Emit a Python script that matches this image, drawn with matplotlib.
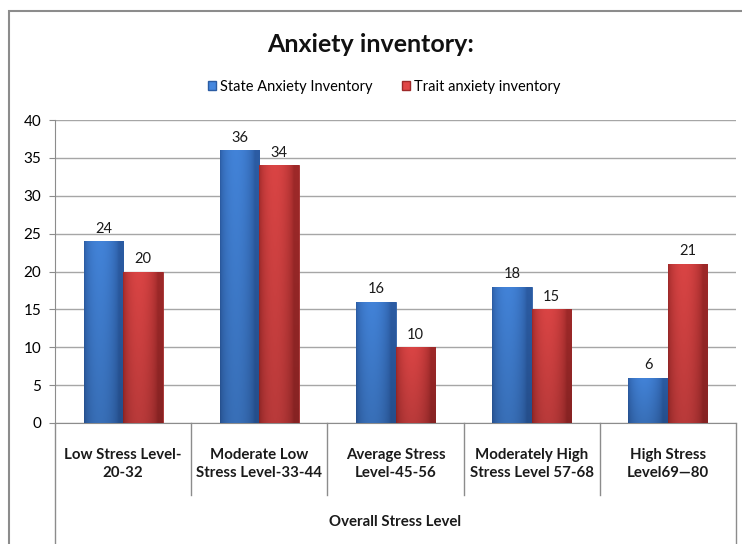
import numpy as np
import matplotlib
matplotlib.use('Agg')
import matplotlib.pyplot as plt
from matplotlib.patches import Rectangle, Patch
from matplotlib.transforms import blended_transform_factory

categories = ['Low Stress Level-\n20-32', 'Moderate Low\nStress Level-33-44',
              'Average Stress\nLevel-45-56', 'Moderately High\nStress Level 57-68',
              'High Stress\nLevel69\u201480']
state = [24, 36, 16, 18, 6]
trait = [20, 34, 10, 15, 21]
series_names = ['State Anxiety Inventory', 'Trait anxiety inventory']

plt.rcParams['font.family'] = ['Lato', 'DejaVu Sans']

W, H = 742, 544
fig = plt.figure(figsize=(W / 100, H / 100), dpi=100)

# plot area in pixel coords
px_left, px_right, px_top, px_bottom = 55, 736, 120, 423
ax = fig.add_axes([px_left / W, 1 - px_bottom / H,
                   (px_right - px_left) / W, (px_bottom - px_top) / H])

# outer chart border
fig.patches.append(Rectangle((9 / W, -0.05), 1.2, 1 - 11 / H + 0.05,
                             transform=fig.transFigure, fill=False,
                             edgecolor='#8c8c8c', lw=1.5))

blue_mid, blue_dark = np.array([0.27, 0.53, 0.87]), np.array([0.17, 0.36, 0.64])
red_mid, red_dark = np.array([0.88, 0.28, 0.28]), np.array([0.62, 0.16, 0.16])


def shade_bar(bar, cmid, cdark):
    x0, w, h = bar.get_x(), bar.get_width(), bar.get_height()
    t = np.linspace(0, 1, 60)
    p = np.clip(np.sin(np.pi * np.clip(t * 1.15, 0, 1)) ** 0.6, 0, 1)
    p = p * (1 - 0.25 * t)
    v = np.linspace(1.0, 0.85, 100)[:, None]
    img = (cdark[None, None, :] + (cmid - cdark)[None, None, :] * p[None, :, None]) * v[:, :, None]
    img = np.clip(img, 0, 1)
    im = ax.imshow(img, extent=[x0, x0 + w, 0, h], aspect='auto',
                   origin='upper', zorder=3, interpolation='bilinear')
    im.set_clip_path(bar)


x = np.arange(len(categories))
bw = 0.29
b1 = ax.bar(x - bw / 2, state, bw, color=blue_mid, edgecolor=blue_dark, lw=0.6, zorder=3)
b2 = ax.bar(x + bw / 2, trait, bw, color=red_mid, edgecolor=red_dark, lw=0.6, zorder=3)
for bar in b1:
    shade_bar(bar, blue_mid, blue_dark)
for bar in b2:
    shade_bar(bar, red_mid, red_dark)

for bars, vals in ((b1, state), (b2, trait)):
    for bar, v in zip(bars, vals):
        ax.annotate(str(v), (bar.get_x() + bar.get_width() / 2, v),
                    xytext=(0, 4), textcoords='offset points',
                    ha='center', va='bottom', fontsize=10.5, color='#1a1a1a')

ax.set_xlim(-0.5, len(categories) - 0.5)
ax.set_ylim(0, 40)
ax.set_yticks(range(0, 41, 5))
ax.tick_params(axis='y', length=4, color='#8c8c8c', labelsize=11, pad=6)
ax.set_xticks([])
ax.yaxis.grid(True, color='#a6a6a6', lw=1)
ax.set_axisbelow(True)
for s in ('top', 'right'):
    ax.spines[s].set_visible(False)
ax.spines['left'].set_color('#8c8c8c')
ax.spines['bottom'].set_color('#8c8c8c')

# category table below the axis
tr = blended_transform_factory(ax.transData, ax.transAxes)
ph = px_bottom - px_top
div_bottom = -(495 - px_bottom) / ph
box_bottom = -(H - px_bottom + 5) / ph
for b in np.arange(0.5, len(categories) - 1, 1.0):
    ax.plot([b, b], [0, div_bottom], transform=tr, color='#8c8c8c', lw=1, clip_on=False)
ax.plot([-0.5, -0.5], [0, box_bottom], transform=tr, color='#8c8c8c', lw=1, clip_on=False)
ax.plot([len(categories) - 0.5] * 2, [0, box_bottom], transform=tr,
        color='#8c8c8c', lw=1, clip_on=False)
for i, c in enumerate(categories):
    ax.text(i, -(464 - px_bottom) / ph, c, transform=tr, ha='center', va='center',
            fontsize=10.8, fontweight='bold', linespacing=1.45, color='#1a1a1a')
ax.text(0.5, -(522 - px_bottom) / ph, 'Overall Stress Level', transform=ax.transAxes,
        ha='center', va='center', fontsize=10.8, fontweight='bold', color='#1a1a1a')

fig.text(371 / W, 1 - 45 / H, 'Anxiety inventory:', ha='center', va='center',
         fontsize=18, fontweight='bold', color='#111111')

handles = [Patch(facecolor=blue_mid, edgecolor=blue_dark),
           Patch(facecolor=red_mid, edgecolor=red_dark)]
fig.legend(handles, series_names, loc='center', bbox_to_anchor=(384 / W, 1 - 87 / H),
           ncol=2, frameon=False, fontsize=10.5, handlelength=0.55, handleheight=0.55,
           handletextpad=0.3, columnspacing=2.0, borderpad=0, borderaxespad=0)

fig.savefig('out.png', dpi=100)
